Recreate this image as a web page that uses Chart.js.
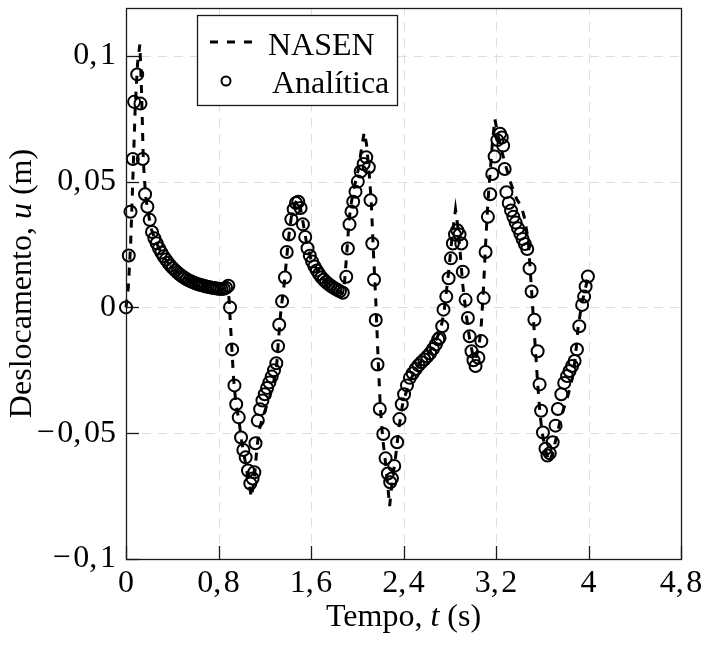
<!DOCTYPE html>
<html><head><meta charset="utf-8">
<script src="https://cdn.jsdelivr.net/npm/chart.js@4/dist/chart.umd.min.js"></script>
<style>html,body{margin:0;padding:0;background:#fff;}#wrap{width:701px;height:645px;}</style>
</head><body><div id="wrap"><canvas id="c" width="701" height="645"></canvas></div>
<script>
const xTicks = [0, 0.8, 1.6, 2.4, 3.2, 4, 4.8];
const xTickLabels = ["0", "0,\u200a8", "1,\u200a6", "2,\u200a4", "3,\u200a2", "4", "4,\u200a8"];
const yTicks = [-0.1, -0.05, 0, 0.05, 0.1];
const yTickLabels = ["\u2212\u200a0,\u200a1", "\u2212\u200a0,\u200a05", "0", "0,\u200a05", "0,\u200a1"];

const nasenT = [0,0.02,0.04,0.06,0.08,0.1,0.12,0.135,0.15,0.17,0.19,0.22,0.26,0.3,0.35,0.4,0.5,0.6,0.7,0.8,0.87,0.89,0.91,0.93,0.95,0.98,1.0,1.03,1.06,1.085,1.11,1.13,1.15,1.18,1.21,1.24,1.27,1.3,1.32,1.34,1.37,1.39,1.41,1.43,1.46,1.48,1.5,1.53,1.56,1.6,1.7,1.8,1.87,1.89,1.91,1.93,1.95,1.98,2.01,2.04,2.06,2.08,2.1,2.12,2.14,2.16,2.18,2.2,2.22,2.25,2.28,2.3,2.33,2.36,2.39,2.44,2.5,2.56,2.62,2.68,2.72,2.75,2.77,2.79,2.82,2.85,2.87,2.89,2.91,2.94,2.97,3.0,3.02,3.05,3.07,3.09,3.11,3.13,3.15,3.17,3.19,3.22,3.25,3.28,3.33,3.38,3.42,3.45,3.48,3.5,3.52,3.54,3.56,3.58,3.6,3.63,3.66,3.69,3.72,3.75,3.78,3.81,3.84,3.87,3.89,3.91,3.94,3.97,4.0];
const nasenU = [0,0.008,0.025,0.052,0.08,0.097,0.1045,0.085,0.058,0.044,0.038,0.031,0.026,0.022,0.0185,0.0157,0.0119,0.0096,0.0083,0.0074,0.0072,0.004,-0.012,-0.028,-0.038,-0.046,-0.053,-0.061,-0.069,-0.0755,-0.068,-0.057,-0.049,-0.044,-0.04,-0.036,-0.031,-0.025,-0.012,-0.001,0.01,0.02,0.029,0.036,0.041,0.043,0.042,0.034,0.026,0.019,0.0115,0.0075,0.0057,0.01,0.022,0.035,0.042,0.049,0.055,0.064,0.0696,0.065,0.055,0.043,0.022,0.003,-0.02,-0.04,-0.052,-0.064,-0.079,-0.07,-0.06,-0.048,-0.039,-0.031,-0.025,-0.021,-0.018,-0.013,-0.009,-0.002,0.006,0.014,0.028,0.039,0.032,0.022,0.01,-0.002,-0.012,-0.019,-0.021,-0.016,-0.009,0.006,0.025,0.042,0.054,0.066,0.0748,0.068,0.062,0.057,0.049,0.043,0.04,0.035,0.026,0.012,-0.002,-0.016,-0.03,-0.042,-0.05,-0.057,-0.0615,-0.058,-0.052,-0.046,-0.041,-0.037,-0.032,-0.026,-0.018,-0.008,0.001,0.007,0.0125];

const analT = [0,0.024,0.039,0.059,0.07,0.097,0.125,0.145,0.165,0.185,0.205,0.225,0.245,0.265,0.285,0.305,0.325,0.345,0.365,0.385,0.405,0.425,0.445,0.465,0.485,0.505,0.525,0.545,0.565,0.585,0.605,0.625,0.645,0.665,0.685,0.705,0.725,0.745,0.765,0.785,0.805,0.825,0.845,0.865,0.885,0.9,0.918,0.938,0.953,0.975,0.995,1.015,1.035,1.055,1.075,1.095,1.11,1.12,1.14,1.16,1.18,1.2,1.22,1.24,1.26,1.28,1.3,1.315,1.325,1.35,1.375,1.39,1.41,1.43,1.45,1.47,1.49,1.51,1.53,1.55,1.57,1.59,1.61,1.63,1.65,1.67,1.69,1.71,1.73,1.75,1.77,1.79,1.81,1.83,1.85,1.875,1.905,1.919,1.933,1.95,1.965,1.985,2.005,2.03,2.055,2.078,2.1,2.115,2.13,2.145,2.16,2.175,2.195,2.225,2.245,2.265,2.285,2.3,2.32,2.345,2.365,2.385,2.405,2.43,2.455,2.48,2.505,2.53,2.555,2.58,2.605,2.63,2.655,2.68,2.7,2.712,2.735,2.746,2.77,2.79,2.81,2.827,2.845,2.865,2.885,2.9,2.913,2.937,2.957,2.972,2.988,3.005,3.023,3.048,3.073,3.093,3.11,3.13,3.15,3.168,3.188,3.212,3.235,3.25,3.262,3.275,3.29,3.31,3.33,3.35,3.37,3.39,3.41,3.43,3.45,3.47,3.49,3.508,3.532,3.56,3.577,3.59,3.606,3.628,3.645,3.665,3.69,3.715,3.735,3.765,3.79,3.815,3.836,3.858,3.88,3.9,3.92,3.945,3.962,3.975,3.995];
const analU = [0,0.0206,0.038,0.059,0.0817,0.0926,0.081,0.059,0.045,0.040,0.0348,0.030,0.0275,0.0255,0.0235,0.0218,0.0203,0.019,0.0177,0.0166,0.0156,0.0147,0.0139,0.0131,0.0124,0.0118,0.0112,0.0107,0.0103,0.0099,0.0095,0.0092,0.0089,0.0087,0.0084,0.0082,0.008,0.0078,0.0077,0.0075,0.0074,0.0073,0.0074,0.0078,0.0086,0.0,-0.0167,-0.031,-0.0385,-0.0437,-0.0517,-0.0567,-0.0596,-0.0648,-0.070,-0.068,-0.0655,-0.054,-0.045,-0.0405,-0.037,-0.0345,-0.032,-0.0298,-0.0275,-0.025,-0.0222,-0.0154,-0.0069,0.0024,0.0119,0.022,0.029,0.035,0.039,0.0415,0.042,0.0395,0.033,0.028,0.0235,0.0205,0.0182,0.0163,0.0147,0.0133,0.012,0.011,0.0101,0.0093,0.0086,0.008,0.0074,0.0069,0.0064,0.0058,0.0122,0.0234,0.033,0.038,0.042,0.046,0.050,0.054,0.057,0.0597,0.0557,0.0426,0.0254,0.011,-0.005,-0.0227,-0.0404,-0.0503,-0.060,-0.066,-0.0695,-0.068,-0.063,-0.0536,-0.0444,-0.0385,-0.0345,-0.031,-0.028,-0.0262,-0.0245,-0.023,-0.0218,-0.0207,-0.0195,-0.0182,-0.0165,-0.0147,-0.0127,-0.0121,-0.0075,-0.0009,0.0043,0.0116,0.0195,0.0254,0.029,0.0307,0.029,0.0254,0.0142,0.003,-0.0042,-0.0115,-0.0174,-0.021,-0.0233,-0.020,-0.0134,0.0037,0.022,0.036,0.045,0.053,0.060,0.0665,0.069,0.0675,0.0643,0.055,0.0458,0.0415,0.0385,0.036,0.0337,0.0315,0.0293,0.0272,0.0252,0.0232,0.0155,0.0063,-0.0049,-0.0174,-0.0306,-0.0411,-0.0497,-0.0562,-0.0589,-0.058,-0.0536,-0.047,-0.0404,-0.0345,-0.030,-0.0273,-0.0253,-0.0233,-0.0213,-0.0167,-0.0075,0.001,0.0043,0.0083,0.0123];

const seriesNames = ["NASEN", "Anal\u00edtica"];
const FONT = "'Liberation Serif', 'Times New Roman', serif";

const toXY = (T, U) => T.map((t, i) => ({x: t, y: U[i]}));

function drawParts(ctx, parts, x, y, align) {
  let total = 0;
  parts.forEach(p => { ctx.font = (p[1] ? 'italic ' : '') + '32px ' + FONT; total += ctx.measureText(p[0]).width; });
  let cx = align === 'center' ? x - total / 2 : x;
  parts.forEach(p => { ctx.font = (p[1] ? 'italic ' : '') + '32px ' + FONT; ctx.fillText(p[0], cx, y); cx += ctx.measureText(p[0]).width; });
}

const frame = {
  id: 'frame',
  beforeDatasetsDraw(chart) {
    const {ctx, chartArea: a, scales: {x, y}} = chart;
    ctx.save();
    ctx.strokeStyle = '#dedede'; ctx.lineWidth = 1; ctx.setLineDash([9, 7]);
    xTicks.forEach(v => {
      if (v <= x.min || v >= x.max) return;
      const px = Math.round(x.getPixelForValue(v)) + 0.5;
      ctx.beginPath(); ctx.moveTo(px, a.bottom); ctx.lineTo(px, a.top); ctx.stroke();
    });
    yTicks.forEach(v => {
      if (v <= y.min || v >= y.max) return;
      const py = Math.round(y.getPixelForValue(v)) + 0.5;
      ctx.beginPath(); ctx.moveTo(a.left, py); ctx.lineTo(a.right, py); ctx.stroke();
    });
    ctx.setLineDash([]);
    ctx.strokeStyle = '#1a1a1a'; ctx.lineWidth = 1.3;
    xTicks.forEach(v => {
      const px = Math.round(x.getPixelForValue(v)) + 0.5;
      ctx.beginPath(); ctx.moveTo(px, a.bottom); ctx.lineTo(px, a.bottom - 13); ctx.stroke();
    });
    yTicks.forEach(v => {
      const py = Math.round(y.getPixelForValue(v)) + 0.5;
      ctx.beginPath(); ctx.moveTo(a.left, py); ctx.lineTo(a.left + 13, py); ctx.stroke();
    });
    ctx.restore();
  },
  afterDatasetsDraw(chart) {
    const {ctx, chartArea: a} = chart;
    ctx.save();
    ctx.strokeStyle = '#1a1a1a'; ctx.lineWidth = 1.3;
    ctx.strokeRect(Math.round(a.left) + 0.5, Math.round(a.top) + 0.5, Math.round(a.right - a.left), Math.round(a.bottom - a.top));
    // legend
    ctx.fillStyle = '#fff';
    ctx.fillRect(197, 15, 200, 90);
    ctx.strokeRect(197.5, 15.5, 200, 90);
    const ds = chart.data.datasets;
    ctx.strokeStyle = '#000'; ctx.lineWidth = 3; ctx.setLineDash([8, 9]);
    ctx.beginPath(); ctx.moveTo(210, 42); ctx.lineTo(260, 42); ctx.stroke();
    ctx.setLineDash([]);
    ctx.lineWidth = 2;
    ctx.beginPath(); ctx.arc(226, 81, 4.5, 0, Math.PI * 2); ctx.stroke();
    ctx.fillStyle = '#000'; ctx.textBaseline = 'alphabetic'; ctx.textAlign = 'left';
    ctx.font = '32px ' + FONT;
    ctx.fillText(ds[0].label, 268, 55);
    ctx.fillText(ds[1].label, 272, 93);
    // axis titles
    drawParts(ctx, [["Tempo, ", false], ["t", true], [" (s)", false]], (a.left + a.right) / 2, 626, 'center');
    ctx.save();
    ctx.translate(31, (a.top + a.bottom) / 2);
    ctx.rotate(-Math.PI / 2);
    drawParts(ctx, [["Deslocamento, ", false], ["u", true], [" (m)", false]], 0, 0, 'center');
    ctx.restore();
    ctx.restore();
  }
};

new Chart(document.getElementById('c'), {
  type: 'scatter',
  data: {
    datasets: [
      {label: seriesNames[0], data: toXY(nasenT, nasenU), showLine: true, pointRadius: 0, borderColor: '#000', borderWidth: 3, borderDash: [8, 8], fill: false, tension: 0, clip: false},
      {label: seriesNames[1], data: toXY(analT, analU), showLine: false, pointStyle: 'circle', pointRadius: 6, borderColor: '#000', backgroundColor: 'rgba(0,0,0,0)', pointBorderWidth: 2, borderWidth: 2, clip: false}
    ]
  },
  options: {
    responsive: false, animation: false, devicePixelRatio: 1,
    layout: {padding: {left: 0, right: 20, top: 5, bottom: 0}},
    plugins: {legend: {display: false}, tooltip: {enabled: false}},
    scales: {
      x: {
        type: 'linear', min: 0, max: 4.8,
        afterBuildTicks: s => { s.ticks = xTicks.map(v => ({value: v})); },
        afterFit: s => { s.height = 86; s.paddingLeft = 0; s.paddingRight = 0; s.paddingTop = 0; s.paddingBottom = 0; },
        grid: {display: false, drawTicks: false}, border: {display: false},
        ticks: {autoSkip: false, maxRotation: 0, padding: 5, color: '#000', font: {family: FONT, size: 32},
          callback: v => { const i = xTicks.findIndex(t => Math.abs(t - v) < 1e-9); return i >= 0 ? xTickLabels[i] : ''; }}
      },
      y: {
        type: 'linear', min: -0.1, max: 0.119,
        afterBuildTicks: s => { s.ticks = yTicks.map(v => ({value: v})); },
        afterFit: s => { s.width = 126; s.paddingLeft = 0; s.paddingRight = 0; s.paddingTop = 0; s.paddingBottom = 0; },
        grid: {display: false, drawTicks: false}, border: {display: false},
        ticks: {autoSkip: false, padding: 10, color: '#000', font: {family: FONT, size: 32},
          callback: v => { const i = yTicks.findIndex(t => Math.abs(t - v) < 1e-9); return i >= 0 ? yTickLabels[i] : ''; }}
      }
    }
  },
  plugins: [frame]
});
</script>
</body></html>
